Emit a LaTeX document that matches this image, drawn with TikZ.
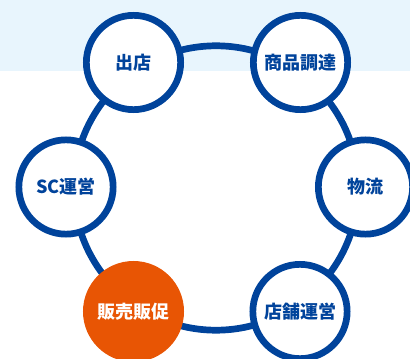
\documentclass[tikz,border=0pt]{standalone}
\usepackage{fontspec}
\setmainfont{Noto Sans CJK JP}
\definecolor{ringblue}{HTML}{00439B}
\definecolor{bandblue}{HTML}{E8F5FD}
\definecolor{accent}{HTML}{E85504}
\tikzset{
  stage/.style={circle, draw=ringblue, line width=6.7pt, fill=white,
    minimum size=94.3pt, inner sep=0pt, text=ringblue,
    font=\fontsize{18}{18}\selectfont\bfseries},
  hot/.style={stage, draw=accent, fill=accent, text=white},
}
\begin{document}
\begin{tikzpicture}[x=1pt,y=-1pt]
  \useasboundingbox (0,0) rectangle (410,359);
  \clip (0,0) rectangle (410,359);
  \fill[bandblue] (0,0) rectangle (410,70.7);
  \coordinate (c) at (216,188);
  \draw[ringblue, line width=6.7pt] (c) circle[radius=142.2];
  \node[stage] (shuten) at (133.5,62.5) {出店};
  \node[stage] (chotatsu) at (300.5,62.5) {商品調達};
  \node[stage] (butsuryu) at (365.5,187) {物流};
  \node[stage] (tenpo) at (300,311.5) {店舗運営};
  \node[hot] (hanbai) at (133.5,311.5) {販売販促};
  \node[stage] (sc) at (66,187) {SC運営};
\end{tikzpicture}
\end{document}
